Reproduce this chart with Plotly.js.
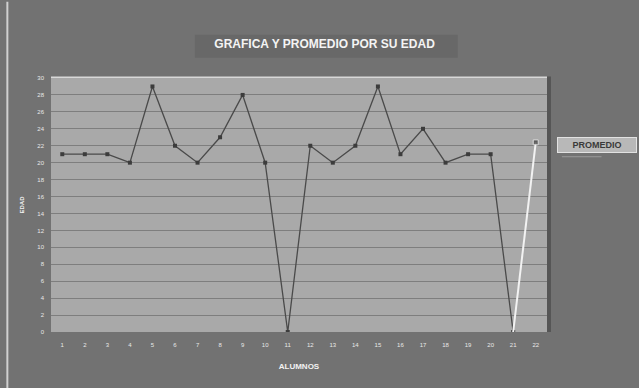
<!DOCTYPE html>
<html>
<head>
<meta charset="utf-8">
<script src="https://cdn.plot.ly/plotly-3.0.1.min.js"></script>
<style>html,body{margin:0;padding:0;background:#757575;}#chart{width:639px;height:388px;}</style>
</head>
<body>
<div id="chart"></div>
<script>
var alumnos = ["1","2","3","4","5","6","7","8","9","10","11","12","13","14","15","16","17","18","19","20","21","22"];
var edades = [21,21,21,20,29,22,20,23,28,20,0,22,20,22,29,21,24,20,21,21,0];
var promedio = 22.4;
var yTicks = [0,2,4,6,8,10,12,14,16,18,20,22,24,26,28,30];
var serieNombre = 'PROMEDIO';

var mainTrace = {
  x: alumnos.slice(0, edades.length),
  y: edades,
  type: 'scatter',
  mode: 'lines+markers',
  line: {color: '#4a4a4a', width: 1.3},
  marker: {symbol: 'square', size: 4, color: '#3c3c3c'},
  showlegend: false,
  hoverinfo: 'x+y'
};
var promTrace = {
  x: [alumnos[edades.length - 1], alumnos[edades.length]],
  y: [edades[edades.length - 1], promedio],
  type: 'scatter',
  mode: 'lines+markers',
  name: serieNombre,
  line: {color: '#f2f2f2', width: 2},
  marker: {symbol: 'square', size: [0, 5], color: '#3c3c3c'},
  showlegend: false
};

var layout = {
  width: 639, height: 388,
  margin: {l: 51, r: 92, t: 78, b: 56, autoexpand: false},
  paper_bgcolor: '#727272',
  plot_bgcolor: '#a9a9a9',
  font: {family: 'Liberation Sans, Arial, sans-serif', color: '#eeeeee'},
  title: {
    text: '<b>GRAFICA Y PROMEDIO POR SU EDAD</b>',
    font: {size: 12, color: '#f4f4f4', family: 'Liberation Sans, Arial, sans-serif'},
    x: 0.508, xanchor: 'center', y: 0.888, yanchor: 'middle'
  },
  xaxis: {
    type: 'category',
    range: [-0.5, 21.5],
    tickvals: alumnos, ticktext: alumnos,
    tickfont: {size: 6, color: '#e8e8e8'},
    ticklabelstandoff: 8,
    automargin: false,
    showgrid: false, zeroline: false,
    showline: false, ticks: '',
    title: {text: '<b>ALUMNOS</b>', font: {size: 8, color: '#f2f2f2'}, standoff: 16}
  },
  yaxis: {
    range: [0, 30],
    tickvals: yTicks, ticktext: yTicks.map(String),
    tickfont: {size: 6, color: '#e8e8e8'},
    ticklabelstandoff: 6,
    automargin: false,
    showgrid: true, gridcolor: '#7e7e7e', gridwidth: 1,
    zeroline: false, showline: false, ticks: '',
    title: {text: '<b>EDAD</b>', font: {size: 6, color: '#f2f2f2'}, standoff: 12}
  },
  annotations: [
    {xref: 'paper', yref: 'paper', x: 1.02, xanchor: 'left', y: 0.735, yanchor: 'middle',
     text: '<b>' + serieNombre + '</b>', showarrow: false,
     font: {size: 9, color: '#3a3a3a', family: 'Liberation Sans, Arial, sans-serif'},
     bgcolor: '#b8b8b8', bordercolor: '#e2e2e2', borderwidth: 1, borderpad: 2,
     width: 74, align: 'center'}
  ],
  shapes: [
    {type: 'rect', xref: 'paper', yref: 'paper', x0: -0.0, x1: 1.0, y0: 1.0, y1: 1.006,
     fillcolor: '#d8d8d8', line: {width: 0}},
    {type: 'rect', xref: 'paper', yref: 'paper', x0: 1.0, x1: 1.008, y0: 0, y1: 1.006,
     fillcolor: '#555555', line: {width: 0}},
    {type: 'rect', xref: 'paper', yref: 'paper', x0: 0.29, x1: 0.82, y0: 1.08, y1: 1.17,
     fillcolor: '#686868', line: {width: 0}, layer: 'below'},
    {type: 'line', xref: 'paper', yref: 'paper', x0: 1.03, x1: 1.11, y0: 0.69, y1: 0.69,
     line: {color: '#9a9a9a', width: 1}},
    {type: 'line', xref: 'paper', yref: 'paper', x0: -0.088, x1: -0.088, y0: -0.22, y1: 1.3,
     line: {color: '#d0d0d0', width: 2}}
  ]
};

Plotly.newPlot('chart', [mainTrace, promTrace], layout, {displayModeBar: false, staticPlot: true});
</script>
</body>
</html>
